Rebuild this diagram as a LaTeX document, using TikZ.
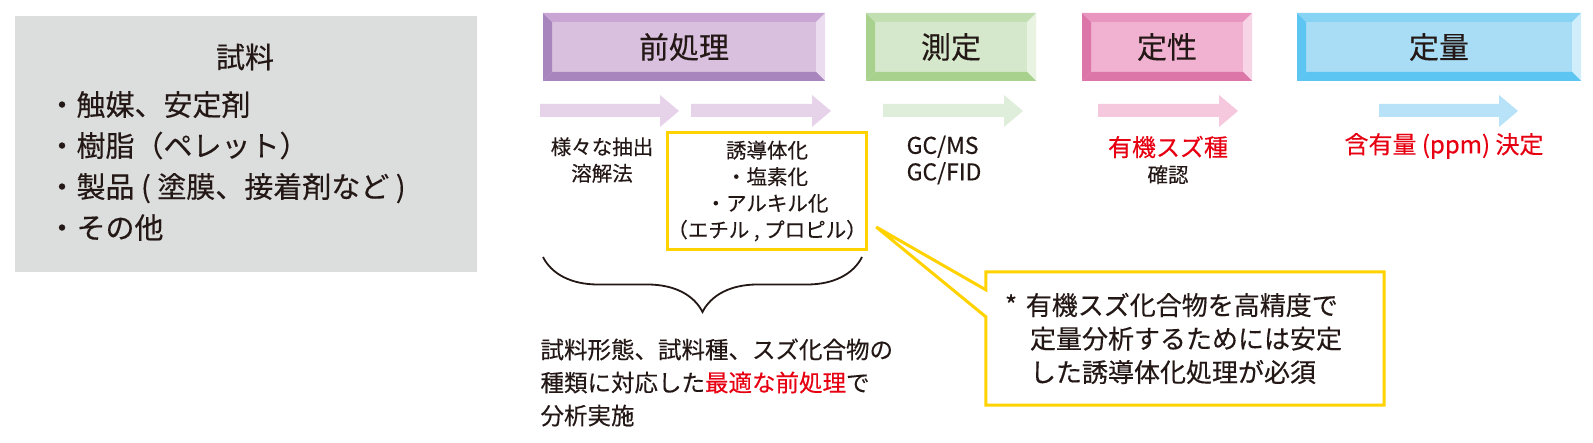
\documentclass[tikz,border=0pt]{standalone}
\usepackage{fontspec}
\setmainfont{Noto Sans CJK JP}[FakeBold=0.3]
\usepackage{tikz}
\usetikzlibrary{positioning,calc,backgrounds,decorations.pathreplacing}
\usepackage{xcolor}
\definecolor{inkblack}{RGB}{35,24,21}
\definecolor{notered}{RGB}{230,0,18}
\definecolor{notegold}{RGB}{255,210,0}
\definecolor{samplegray}{RGB}{220,221,221}
\definecolor{prepfill}{RGB}{217,192,222}
\definecolor{prepdark}{RGB}{169,133,189}
\definecolor{prepmid}{RGB}{201,165,212}
\definecolor{preplight}{RGB}{235,220,239}
\definecolor{prepflow}{RGB}{230,211,234}
\definecolor{measfill}{RGB}{213,232,204}
\definecolor{measdark}{RGB}{169,209,142}
\definecolor{measmid}{RGB}{194,223,177}
\definecolor{measlight}{RGB}{232,243,226}
\definecolor{measflow}{RGB}{223,238,218}
\definecolor{qualfill}{RGB}{240,178,208}
\definecolor{qualdark}{RGB}{220,118,169}
\definecolor{qualmid}{RGB}{232,149,191}
\definecolor{quallight}{RGB}{248,213,230}
\definecolor{qualflow}{RGB}{245,200,221}
\definecolor{quantfill}{RGB}{169,221,246}
\definecolor{quantdark}{RGB}{93,197,241}
\definecolor{quantmid}{RGB}{134,211,244}
\definecolor{quantlight}{RGB}{207,237,251}
\definecolor{quantflow}{RGB}{183,226,248}

\newcommand{\stagefont}{\fontsize{30}{34}\selectfont}
\newcommand{\itemfont}{\fontsize{29}{41}\selectfont}
\newcommand{\smallfont}{\fontsize{20.5}{26.5}\selectfont}
\newcommand{\latinfont}{\fontsize{23}{26.5}\selectfont}
\newcommand{\redfont}{\fontsize{24}{27}\selectfont}
\newcommand{\notefont}{\fontsize{23.5}{33}\selectfont}
\newcommand{\calloutfont}{\fontsize{26}{33.5}\selectfont}

\tikzset{
  stage/.style n args={4}{fill=#1, minimum height=68pt, inner sep=0pt, font=\stagefont,
    path picture={
      \path (path picture bounding box.south west) coordinate (a1) ++(9pt,9pt) coordinate (b1)
            (path picture bounding box.north west) coordinate (a2) ++(9pt,-9pt) coordinate (b2)
            (path picture bounding box.north east) coordinate (a3) ++(-9pt,-9pt) coordinate (b3)
            (path picture bounding box.south east) coordinate (a4) ++(-9pt,9pt) coordinate (b4);
      \fill[#2] (a1) -- (a2) -- (b2) -- (b1) -- cycle;
      \fill[#3] (a2) -- (a3) -- (b3) -- (b2) -- cycle;
      \fill[#4] (a3) -- (a4) -- (b4) -- (b3) -- cycle;
      \fill[#2] (a4) -- (a1) -- (b1) -- (b4) -- cycle;
    }},
}

\begin{document}
\begin{tikzpicture}[x=1pt, y=-1pt, text=inkblack]
\useasboundingbox (0,0) rectangle (1593,443);

% sample
\node[fill=samplegray, minimum width=462pt, minimum height=256pt, anchor=north west] (sample) at (15,16) {};
\node[font=\itemfont] (sampletitle) at (245,57) {試料};
\node[font=\itemfont, align=left, anchor=west] (samplelist) at (44,166) {・触媒、安定剤\\・樹脂（ペレット）\\・製品 ( 塗膜、接着剤など )\\・その他};

% stages
\node[stage={prepfill}{prepdark}{prepmid}{preplight}, minimum width=282pt] (prep) at (684,47) {前処理};
\node[stage={measfill}{measdark}{measmid}{measlight}, minimum width=170pt] (meas) at (951,47) {測定};
\node[stage={qualfill}{qualdark}{qualmid}{quallight}, minimum width=170pt] (qual) at (1167,47) {定性};
\node[stage={quantfill}{quantdark}{quantmid}{quantlight}, minimum width=284pt] (quant) at (1439,47) {定量};

\foreach \xa/\xb/\c in {540/679/prepflow, 691/831/prepflow, 883/1023/measflow, 1098/1238/qualflow, 1379/1518/quantflow}
  \fill[\c] (\xa,104) -- (\xb-19,104) -- (\xb-19,95) -- (\xb,111) -- (\xb-19,127) -- (\xb-19,117) -- (\xa,117) -- cycle;

% steps
\node[font=\smallfont, align=center] (extract) at (602,160) {様々な抽出\\溶解法};
\node[draw=notegold, line width=3pt, minimum width=191pt, minimum height=117pt, inner sep=0pt,
      font=\smallfont, align=center] (deriv) at (767,191) {誘導体化\\・塩素化\\・アルキル化\\（エチル , プロピル）};
\node[font=\latinfont, align=left] (instr) at (944,160) {GC/MS\\GC/FID};
\node[font=\redfont, text=notered] (species) at (1168,147) {有機スズ種};
\node[font=\smallfont, below=0pt of species] (confirm) {確認};
\node[font=\redfont, text=notered] (amount) at (1444,146) {含有量 (ppm) 決定};

% brace
\coordinate (bracer) at (862,257);
\coordinate (bracel) at (543,257);
\draw[decorate, decoration={brace, amplitude=55pt}, line width=1.8pt, inkblack] (bracer) -- (bracel);
\node[font=\notefont, align=left, anchor=north west] (reason) at (537,335)
  {試料形態、試料種、スズ化合物の\\種類に対応した{\color{notered}最適な前処理}で\\分析実施};

% callout
\node[font=\calloutfont, text width=360pt, align=left, minimum width=398pt, minimum height=133pt, inner sep=0pt] (note) at (1185,338.5)
  {* 有機スズ化合物を高精度で\\\hspace*{25pt}定量分析するためには安定\\\hspace*{25pt}した誘導体化処理が必須};
\coordinate (tip) at ([shift={(8pt,24pt)}]deriv.south east);
\begin{scope}[on background layer]
\draw[notegold, line width=3pt, fill=white] (note.north west) -- (note.north east) -- (note.south east) -- (note.south west)
  -- ([yshift=-45pt]note.north west) -- (tip) -- ([yshift=-18pt]note.north west) -- cycle;
\end{scope}
\end{tikzpicture}
\end{document}
